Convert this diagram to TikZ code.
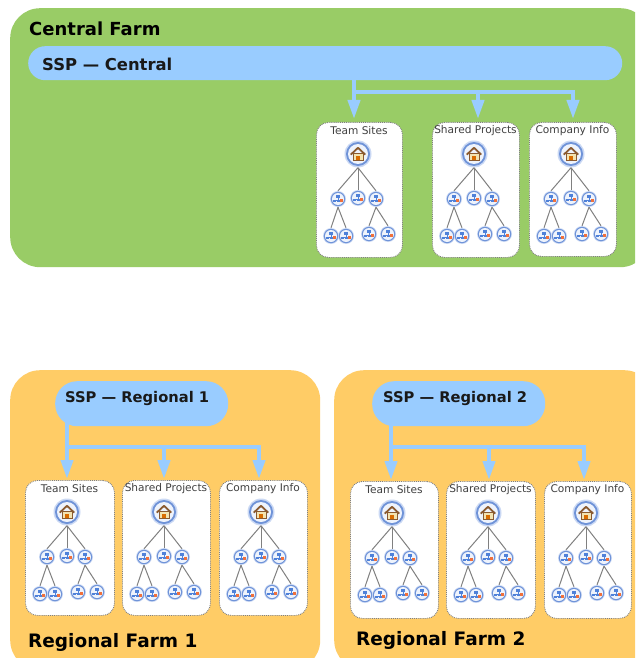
\documentclass[tikz,border=0pt]{standalone}
\usepackage{fontspec}
\setmainfont{DejaVu Sans}
\usetikzlibrary{arrows.meta}
\definecolor{farmgreen}{HTML}{99CC66}
\definecolor{farmorange}{HTML}{FFCC66}
\definecolor{sspblue}{HTML}{99CCFF}
\definecolor{ringblue}{HTML}{6F93D8}
\definecolor{ringpale}{HTML}{CBD9F4}
\definecolor{innerpale}{HTML}{EEF3FC}
\definecolor{glyphblue}{HTML}{4F81D9}
\definecolor{dotorange}{HTML}{F0703C}
\definecolor{roofbrown}{HTML}{8A5A30}
\definecolor{wallcream}{HTML}{F3E3B0}
\tikzset{
  farmbox/.style={fill=#1,draw=none,rounded corners=30pt,anchor=north west,inner sep=0pt},
  pill/.style={fill=sspblue,draw=none,anchor=north west,inner sep=0pt},
  farmtitle/.style={font=\bfseries\fontsize{#1}{20}\selectfont,text=black,anchor=west,inner sep=0pt},
  ssptitle/.style={font=\bfseries\fontsize{#1}{18}\selectfont,text=black!90,anchor=west,inner sep=0pt},
  cardbox/.style={fill=white,draw=black!50,densely dotted,line width=0.9pt,rounded corners=12pt,anchor=north west,inner sep=0pt},
  cardtitle/.style={font=\fontsize{10.6}{12}\selectfont,text=black!75,inner sep=0pt},
  flow/.style={draw=sspblue,line width=4pt,-{Triangle[width=12pt,length=19pt]},shorten >=3pt},
  flowline/.style={draw=sspblue,line width=4pt,line cap=rect},
  tree/.style={draw=black!50,line width=1pt},
  homeicon/.style={circle,fill=ringpale,draw=none,minimum size=27pt,inner sep=0pt,
    path picture={
      \begin{scope}[shift={(path picture bounding box.center)}]
        \fill[ringblue] (0,0) circle[radius=12];
        \fill[innerpale] (0,0) circle[radius=10];
        \fill[wallcream] (-5,-0.5) rectangle (5,6);
        \draw[roofbrown,line width=0.5pt] (-5,-0.5) rectangle (5,6);
        \fill[orange!85!black] (-1.8,1.5) rectangle (1.8,6);
        \draw[roofbrown,line width=1.8pt,line join=round] (-7.2,0.6) -- (0,-6.2) -- (7.2,0.6);
      \end{scope}
    }},
  siteicon/.style={circle,fill=ringpale,draw=none,minimum size=16pt,inner sep=0pt,
    path picture={
      \begin{scope}[shift={(path picture bounding box.center)}]
        \fill[ringblue] (0,0) circle[radius=7.2];
        \fill[innerpale] (0,0) circle[radius=6];
        \fill[glyphblue] (-2.2,-4) rectangle (2.2,-0.8);
        \draw[glyphblue,line width=0.4pt] (0,-0.8) -- (0,0.8) (-2.8,0.8) -- (2.8,0.8);
        \fill[glyphblue] (-4.6,0.8) rectangle (-1.6,3.2);
        \fill[glyphblue] (-1.2,0.8) rectangle (1.8,3.2);
        \fill[dotorange] (2.4,0.2) rectangle (4.8,2.6);
      \end{scope}
    }},
}
% #1 prefix, #2 left, #3 top, #4 width, #5 height, #6 title
\newcommand{\sitecard}[6]{%
  \node[cardbox,minimum width=#4pt,minimum height=#5pt] (#1) at (#2,#3) {};
  \begin{scope}[shift={(#2,#3)}]
    \node[cardtitle] (#1t) at (#4/2,9) {#6};
    \node[homeicon] (#1h) at (42,32) {};
    \node[siteicon] (#1a) at (22,77) {};
    \node[siteicon] (#1b) at (42,76) {};
    \node[siteicon] (#1c) at (60,77) {};
    \node[siteicon] (#1d) at (15,114) {};
    \node[siteicon] (#1e) at (30,114) {};
    \node[siteicon] (#1f) at (53,112) {};
    \node[siteicon] (#1g) at (72,112) {};
    \draw[tree] (#1h.south) -- (#1a.north);
    \draw[tree] (#1h.south) -- (#1b.north);
    \draw[tree] (#1h.south) -- (#1c.north);
    \draw[tree] (#1a.south) -- (#1d.north);
    \draw[tree] (#1a.south) -- (#1e.north);
    \draw[tree] (#1c.south) -- (#1f.north);
    \draw[tree] (#1c.south) -- (#1g.north);
  \end{scope}
}
\begin{document}
\begin{tikzpicture}[x=1pt,y=-1pt]
\useasboundingbox (0,0) rectangle (635,658);
\fill[white] (0,0) rectangle (635,658);
\clip (0,0) rectangle (635,658);
% farms
\node[farmbox=farmgreen,minimum width=640pt,minimum height=259pt] (central) at (10,8) {};
\node[farmbox=farmorange,minimum width=310pt,minimum height=300pt] (reg1) at (10,370) {};
\node[farmbox=farmorange,minimum width=320pt,minimum height=300pt] (reg2) at (334,370) {};
\node[farmtitle=18] (centralt) at (29,29) {Central Farm};
\node[farmtitle=18.5] (reg1t) at (28,642) {Regional Farm 1};
\node[farmtitle=18.5] (reg2t) at (356,640) {Regional Farm 2};
% SSP pills
\node[pill,rounded corners=17pt,minimum width=594pt,minimum height=34pt] (sspc) at (28,46) {};
\node[pill,rounded corners=22pt,minimum width=173pt,minimum height=45pt] (ssp1) at (55,381) {};
\node[pill,rounded corners=22pt,minimum width=173pt,minimum height=45pt] (ssp2) at (372,381) {};
\node[ssptitle=16.4] (sspct) at (42,64) {SSP — Central};
\node[ssptitle=14.7] (ssp1t) at (65,398) {SSP — Regional 1};
\node[ssptitle=14.7] (ssp2t) at (383,398) {SSP — Regional 2};
% cards
\sitecard{ca}{316}{122}{86}{135}{Team Sites}
\sitecard{cb}{432}{122}{87}{135}{Shared Projects}
\sitecard{cc}{529}{122}{87}{134}{Company Info}
\sitecard{ra}{25}{480}{89}{135}{Team Sites}
\sitecard{rb}{122}{480}{88}{135}{Shared Projects}
\sitecard{rc}{219}{480}{88}{135}{Company Info}
\sitecard{sa}{350}{481}{88}{137}{Team Sites}
\sitecard{sb}{446}{481}{89}{137}{Shared Projects}
\sitecard{sc}{544}{481}{87}{137}{Company Info}
% connector anchors
\coordinate (cx1) at (354,92);
\coordinate (cx2) at (478,92);
\coordinate (cx3) at (573,92);
\coordinate (rx1) at (67,447);
\coordinate (rx2) at (164,447);
\coordinate (rx3) at (259,447);
\coordinate (sx1) at (391,447);
\coordinate (sx2) at (489,447);
\coordinate (sx3) at (584,447);
% connectors
\draw[flow] ([yshift=4pt]cx1 |- sspc.south) -- (cx1 |- ca.north);
\draw[flowline] (cx1) -- (cx3);
\draw[flow] (cx2) -- (cx2 |- cb.north);
\draw[flow] (cx3) -- (cx3 |- cc.north);
\draw[flow,shorten >=1pt] ([yshift=4pt]rx1 |- ssp1.south) -- (rx1 |- ra.north);
\draw[flowline] (rx1) -- (rx3);
\draw[flow,shorten >=1pt] (rx2) -- (rx2 |- rb.north);
\draw[flow,shorten >=1pt] (rx3) -- (rx3 |- rc.north);
\draw[flow,shorten >=1pt] ([yshift=4pt]sx1 |- ssp2.south) -- (sx1 |- sa.north);
\draw[flowline] (sx1) -- (sx3);
\draw[flow,shorten >=1pt] (sx2) -- (sx2 |- sb.north);
\draw[flow,shorten >=1pt] (sx3) -- (sx3 |- sc.north);
\end{tikzpicture}
\end{document}
